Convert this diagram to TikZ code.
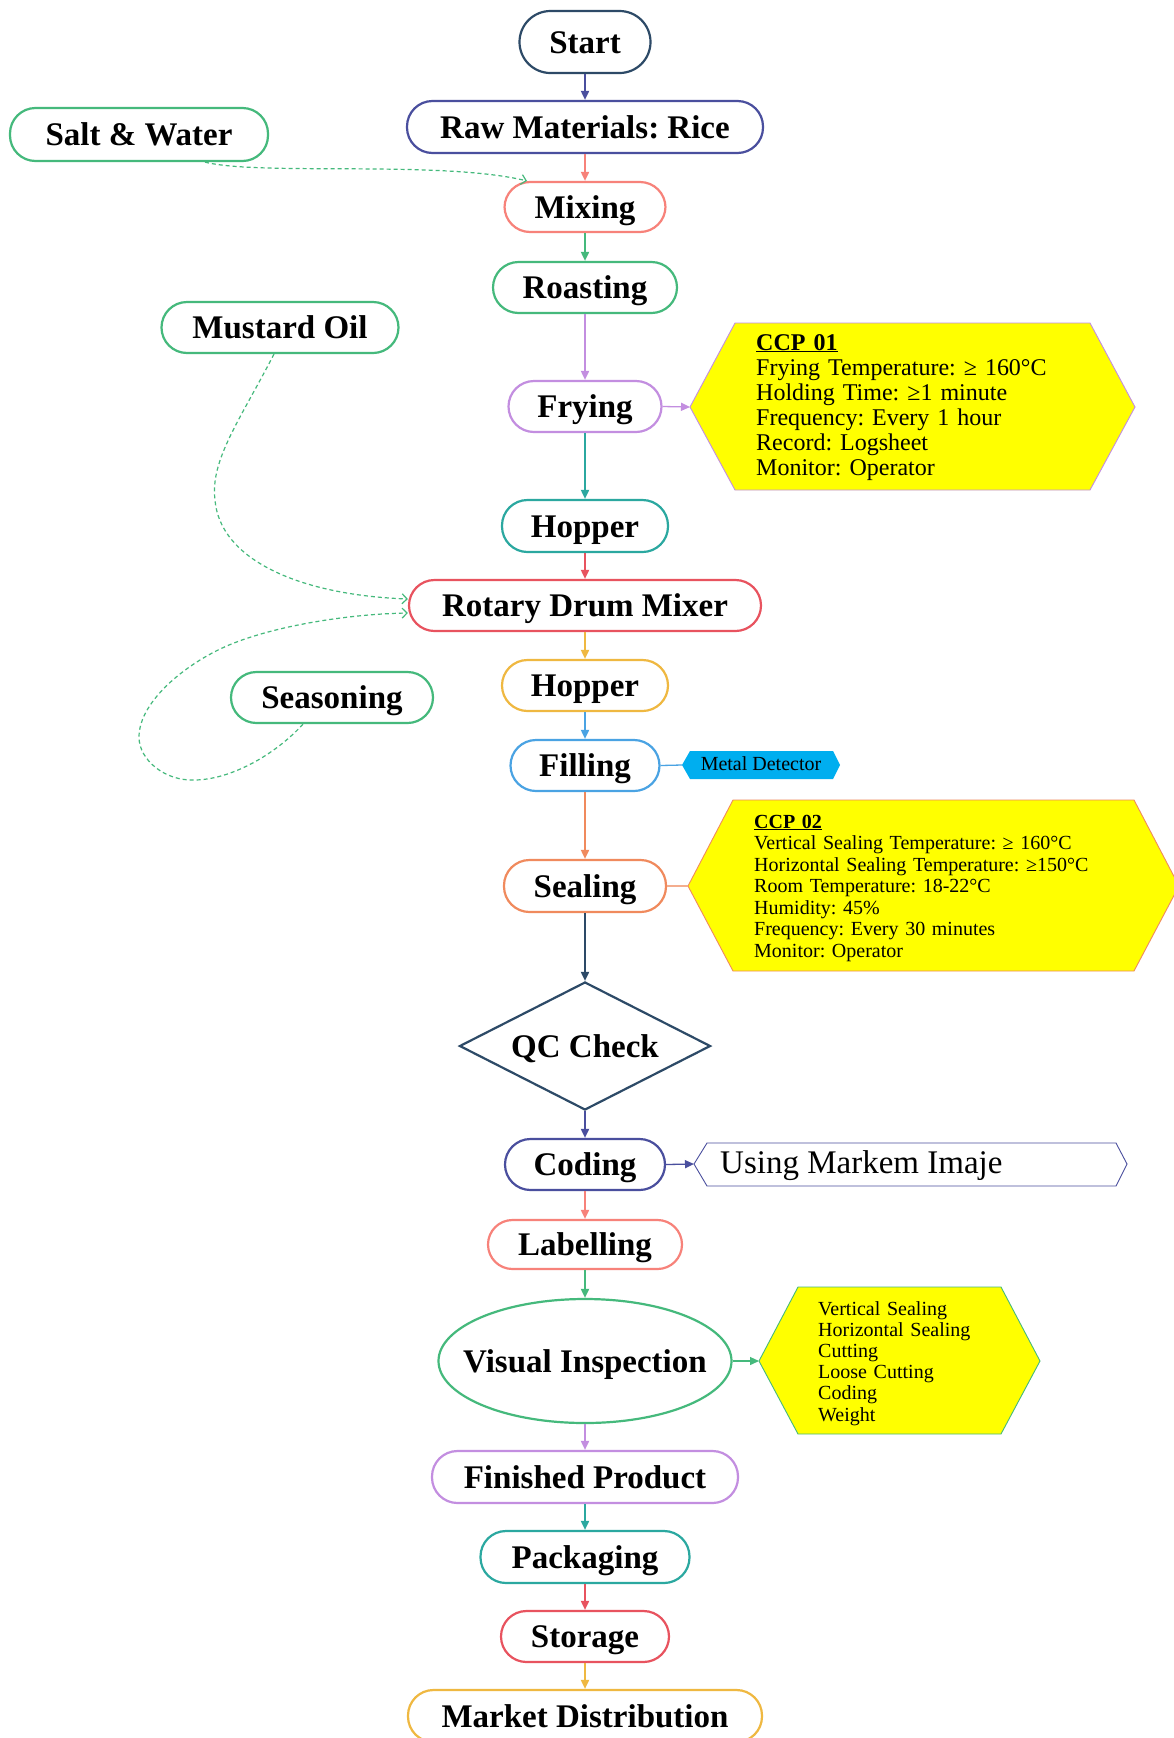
\documentclass[tikz,border=0pt]{standalone}
\usepackage{fontspec}
\setmainfont{Liberation Serif}
\usetikzlibrary{shapes.geometric,arrows.meta}

\definecolor{cnavy}{HTML}{2D4A67}
\definecolor{cindigo}{HTML}{4A4F9E}
\definecolor{csalmon}{HTML}{F7827A}
\definecolor{cgreen}{HTML}{45B97C}
\definecolor{cpurple}{HTML}{C38EE0}
\definecolor{cteal}{HTML}{2BA8A0}
\definecolor{cred}{HTML}{E8535F}
\definecolor{cyellow}{HTML}{EFB841}
\definecolor{cblue}{HTML}{4AA3E3}
\definecolor{corange}{HTML}{F08A5D}
\definecolor{ccyan}{HTML}{00AEEF}
\definecolor{hexfill}{HTML}{FFFF00}

\begin{document}
\frenchspacing
\begin{tikzpicture}[x=1pt,y=-1pt,
  stage/.style={draw=#1, fill=white, line width=2.2pt, rectangle,
    rounded corners=25.5pt, minimum height=51pt, inner sep=0pt,
    text height=22pt, text depth=0pt,
    font=\fontsize{33}{36}\selectfont\bfseries},
  flow/.style={draw=#1, line width=1.8pt, -{Triangle[length=9pt,width=8pt]}},
  side/.style={draw=#1, line width=1.3pt},
  sidearrow/.style={draw=#1, line width=1.3pt, -{Triangle[length=9pt,width=8pt]}},
  feed/.style={draw=cgreen, line width=1.2pt, dash pattern=on 4pt off 3pt,
    -{Straight Barb[length=5pt,width=10pt]}},
  hexbox/.style={draw=#1, fill=hexfill, line width=0.9pt},
  note/.style={inner sep=0pt, text width=420pt, align=left, anchor=base west},
]
\useasboundingbox (0,0) rectangle (1173,1738);
\fill[white] (0,0) rectangle (1173,1738);

% main process chain
\node[stage=cnavy, minimum width=131pt, minimum height=62pt, rounded corners=31pt] (start) at (585,42) {Start};
\node[stage=cindigo, minimum width=356pt, minimum height=52pt] (raw) at (585,127) {Raw Materials: Rice};
\node[stage=csalmon, minimum width=161pt, minimum height=50pt] (mixing) at (585,207) {Mixing};
\node[stage=cgreen, minimum width=184pt] (roasting) at (585,287.5) {Roasting};
\node[stage=cpurple, minimum width=153pt] (frying) at (585,406.5) {Frying};
\node[stage=cteal, minimum width=166pt, minimum height=52pt] (hopperA) at (585,526) {Hopper};
\node[stage=cred, minimum width=352pt] (rotary) at (585,605.5) {Rotary Drum Mixer};
\node[stage=cyellow, minimum width=166pt] (hopperB) at (585,685.5) {Hopper};
\node[stage=cblue, minimum width=149pt] (filling) at (585,765.5) {Filling};
\node[stage=corange, minimum width=162pt, minimum height=52pt] (sealing) at (585,886) {Sealing};
\node[draw=cnavy, fill=white, line width=2.2pt, diamond, aspect=1.96,
  minimum width=251pt, minimum height=128pt, inner sep=0pt,
  text height=22pt, text depth=0pt,
  font=\fontsize{33}{36}\selectfont\bfseries] (qc) at (585,1046) {QC Check};
\node[stage=cindigo, minimum width=160pt] (coding) at (585,1164.5) {Coding};
\node[stage=csalmon, minimum width=194pt, minimum height=49pt, rounded corners=24.5pt] (labelling) at (585,1244.5) {Labelling};
\node[draw=cgreen, fill=white, line width=2.2pt, ellipse, minimum width=293pt,
  minimum height=124pt, inner xsep=-20pt, inner ysep=0pt,
  text height=22pt, text depth=0pt,
  font=\fontsize{33}{36}\selectfont\bfseries] (visual) at (585,1361) {Visual Inspection};
\node[stage=cpurple, minimum width=306pt, minimum height=52pt] (finished) at (585,1477) {Finished Product};
\node[stage=cteal, minimum width=209pt, minimum height=52pt] (packaging) at (585,1557) {Packaging};
\node[stage=cred, minimum width=168pt] (storage) at (585,1636.5) {Storage};
\node[stage=cyellow, minimum width=354pt, minimum height=52pt] (market) at (585,1716) {Market Distribution};

% ingredient inputs
\node[stage=cgreen, minimum width=258pt, minimum height=53pt] (salt) at (139,134.5) {Salt \& Water};
\node[stage=cgreen, minimum width=237pt] (mustard) at (280,327.5) {Mustard Oil};
\node[stage=cgreen, minimum width=202pt] (seasoning) at (332,697.5) {Seasoning};

% chain connectors
\draw[flow=cindigo] (start) -- (raw);
\draw[flow=csalmon] (raw) -- (mixing);
\draw[flow=cgreen] (mixing) -- (roasting);
\draw[flow=cpurple] (roasting) -- (frying);
\draw[flow=cteal] (frying) -- (hopperA);
\draw[flow=cred] (hopperA) -- (rotary);
\draw[flow=cyellow] (rotary) -- (hopperB);
\draw[flow=cblue] (hopperB) -- (filling);
\draw[flow=corange] (filling) -- (sealing);
\draw[flow=cnavy] (sealing) -- (qc);
\draw[flow=cindigo] (qc) -- (coding);
\draw[flow=csalmon] (coding) -- (labelling);
\draw[flow=cgreen] (labelling) -- (visual);
\draw[flow=cpurple] (visual) -- (finished);
\draw[flow=cteal] (finished) -- (packaging);
\draw[flow=cred] (packaging) -- (storage);
\draw[flow=cyellow] (storage) -- (market);

% dashed ingredient feeds
\draw[feed] ([xshift=66pt]salt.south) .. controls (260,176) and (440,160) .. ([xshift=-58pt]mixing.north);
\draw[feed] ([xshift=-6pt]mustard.south) .. controls (240,420) and (210,460) .. (215,500)
  .. controls (220,560) and (300,595) .. ([yshift=6.5pt]rotary.west);
\draw[feed] ([xshift=-29pt]seasoning.south) .. controls (275,755) and (230,780) .. (194,780)
  .. controls (165,781) and (139,760) .. (139,737)
  .. controls (139,700) and (190,660) .. (234,643)
  .. controls (280,625) and (350,614) .. ([yshift=-7.5pt]rotary.west);

% CCP 01 panel
\draw[hexbox=cpurple] (690,407) coordinate (ccpAw) -- (735,323) -- (1090,323) -- (1135,407) -- (1090,490) -- (735,490) -- cycle;
\node[note, font=\fontsize{24}{25}\selectfont] (ccpAtext) at (756,350)
  {\underline{\textbf{CCP 01}}\\
   Frying Temperature: ≥ 160°C\\
   Holding Time: ≥1 minute\\
   Frequency: Every 1 hour\\
   Record: Logsheet\\
   Monitor: Operator};
\draw[sidearrow=cpurple] (frying.east) -- (ccpAw);

% metal detector tag
\fill[ccyan] (682,765) coordinate (metalw) -- (690,751) -- (833,751) -- (840,765) -- (833,779) -- (690,779) -- cycle;
\node[inner sep=0pt, anchor=base, font=\fontsize{20}{22}\selectfont] (metal) at (761,770) {Metal Detector};
\draw[side=cblue] (filling.east) -- (metalw);

% CCP 02 panel
\draw[hexbox=corange] (688,886) coordinate (ccpBw) -- (733,800) -- (1134,800) -- (1179,886) -- (1134,971) -- (733,971) -- cycle;
\node[note, font=\fontsize{20}{21.5}\selectfont] (ccpBtext) at (754,828)
  {\underline{\textbf{CCP 02}}\\
   Vertical Sealing Temperature: ≥ 160°C\\
   Horizontal Sealing Temperature: ≥150°C\\
   Room Temperature: 18-22°C\\
   Humidity: 45\%\\
   Frequency: Every 30 minutes\\
   Monitor: Operator};
\draw[side=corange!70] (sealing.east) -- (ccpBw);

% coding equipment
\draw[draw=cindigo, fill=white, line width=0.9pt] (694,1164) coordinate (markw) -- (707,1143) -- (1116,1143) -- (1127,1164) -- (1116,1186) -- (707,1186) -- cycle;
\node[inner sep=0pt, anchor=base west, font=\fontsize{33}{36}\selectfont] (mark) at (720,1173) {Using Markem Imaje};
\draw[sidearrow=cindigo] (coding.east) -- (markw);

% visual inspection checklist
\draw[hexbox=cgreen] (759,1361) coordinate (checkw) -- (798,1287) -- (1001,1287) -- (1040,1361) -- (1001,1434) -- (798,1434) -- cycle;
\node[note, font=\fontsize{20}{21.2}\selectfont] (checktext) at (818,1315)
  {Vertical Sealing\\
   Horizontal Sealing\\
   Cutting\\
   Loose Cutting\\
   Coding\\
   Weight};
\draw[sidearrow=cgreen] (visual.east) -- (checkw);
\end{tikzpicture}
\end{document}
